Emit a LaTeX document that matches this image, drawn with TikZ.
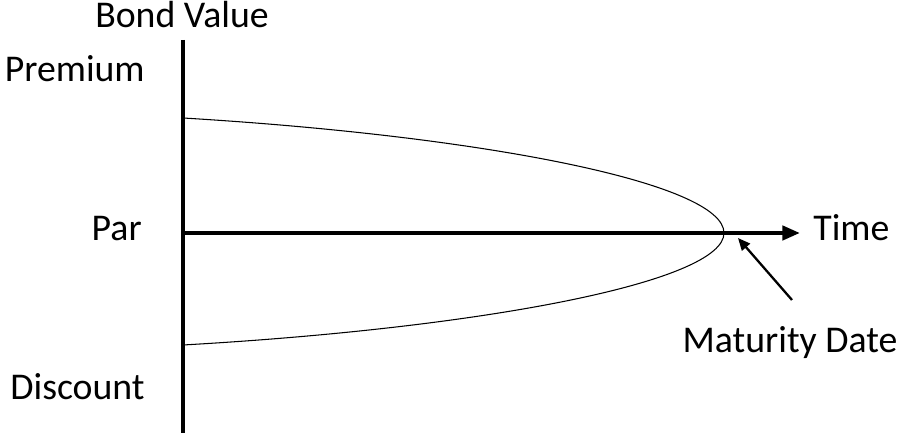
\documentclass[tikz,border=0pt]{standalone}
\usepackage{fontspec}
\setmainfont{Carlito}
\usetikzlibrary{arrows.meta}

\begin{document}
\begin{tikzpicture}[x=0.02cm, y=-0.02cm,
  axis/.style={line width=2.3pt},
  curve/.style={line width=0.6pt},
  label/.style={inner sep=0pt, font=\fontsize{21.5}{26}\selectfont}]
  \useasboundingbox (0, 0) rectangle (907, 448);
  \coordinate (ytop) at (183, 40);
  \coordinate (ybot) at (183, 433);
  \coordinate (origin) at (183, 233);
  \coordinate (xend) at (800, 233);
  \coordinate (par) at (183, 118);
  \coordinate (disc) at (183, 345);
  \coordinate (mat) at (724, 233);
  \coordinate (tail) at (792, 300);
  \coordinate (head) at (738, 238);
  \node[label, anchor=base] (bond) at (182, 28) {Bond Value};
  \node[label, anchor=base east] (prem) at (145, 82) {Premium};
  \node[label, anchor=base east] (parl) at (142, 241) {Par};
  \node[label, anchor=base east] (disl) at (145, 400) {Discount};
  \node[label, anchor=base west] (time) at (813, 241) {Time};
  \node[label, anchor=base] (matl) at (790, 353) {Maturity Date};
  \draw[axis] (ytop)--(ybot);
  \draw[axis, -{Triangle[length=10pt, width=8pt]}] (origin)--(xend);
  \draw[curve] (par) .. controls (483, 136) and (724, 183) .. (mat)
    .. controls (724, 282) and (483, 328) .. (disc);
  \draw[line width=1.3pt, -{Triangle[length=7pt, width=6pt]}] (tail)--(head);
\end{tikzpicture}
\end{document}
